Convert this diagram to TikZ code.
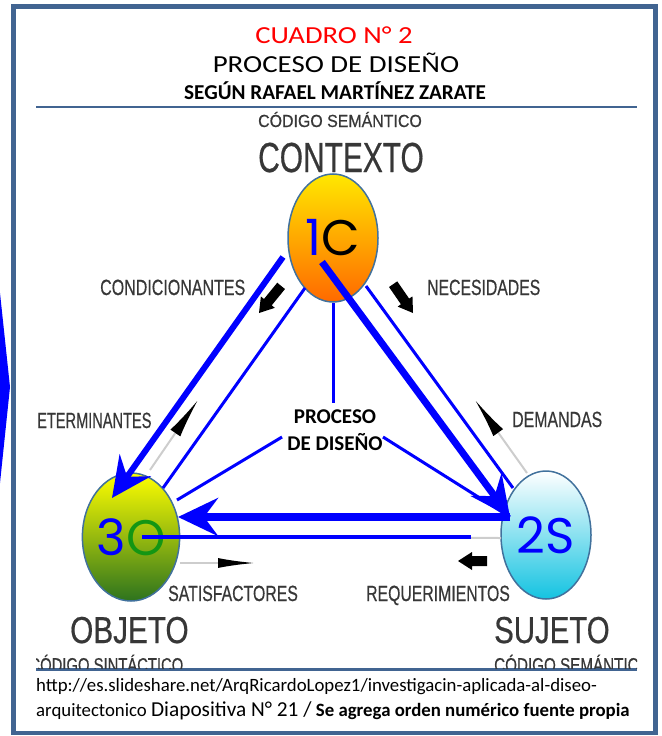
\documentclass[tikz,border=0pt]{standalone}
\usepackage{fontspec}
\usepackage{graphicx}
\setmainfont{Carlito}
\newfontfamily\scanfont[FakeBold=0.6]{Liberation Sans}
\newfontfamily\letrafont{Poppins}
\usetikzlibrary{arrows.meta,shapes.geometric}

\definecolor{marco}{RGB}{65,100,145}
\definecolor{borde}{RGB}{65,113,156}
\definecolor{gristxt}{RGB}{55,55,55}
\definecolor{grisclaro}{RGB}{205,205,205}
\definecolor{azul}{RGB}{0,0,255}
\definecolor{verde}{RGB}{20,150,20}

% texto condensado del esquema escaneado
\newcommand{\scantxt}[3]{\scalebox{#1}[1]{\scanfont\fontsize{#2bp}{#2bp}\selectfont #3}}

\tikzset{
  etapa/.style={ellipse, draw=borde, line width=1.5bp, minimum width=90bp, minimum height=128bp,
    inner sep=0pt, font=\letrafont\fontsize{50bp}{50bp}\selectfont},
  scanlbl/.style={inner sep=0pt, text=gristxt},
  lazo/.style={draw=azul, line width=3bp},
  flecha/.style={draw=azul, line width=#1, -{Stealth[length=40bp, width=38bp, inset=14bp]}},
  rastro/.style={draw=grisclaro, line width=2bp},
  bloque/.style={fill=black}
}

\begin{document}
\begin{tikzpicture}[x=1bp, y=-1bp]
  \useasboundingbox (0,0) rectangle (662,736);

  % marco y reglas
  \fill[azul] (0,293) -- (10,387) -- (0,483) -- cycle;
  \draw[marco, line width=4.5bp] (13.5,6.5) rectangle (655.5,733);
  \draw[marco, line width=2.5bp] (36,107) -- (637,107);
  \draw[marco, line width=2.5bp] (36,669.5) -- (637,669.5);

  % titulos
  \node[anchor=base, inner sep=0pt, text=red] (cuadro) at (334,44)
    {\scalebox{1.17}[1]{\fontsize{24.5bp}{24.5bp}\selectfont CUADRO N° 2}};
  \node[anchor=base, inner sep=0pt] (titulo) at (336,73)
    {\scalebox{1.18}[1]{\fontsize{24.5bp}{24.5bp}\selectfont PROCESO DE DISEÑO}};
  \node[anchor=base, inner sep=0pt, font=\bfseries\fontsize{21.2bp}{21bp}\selectfont] (autor) at (335,99)
    {SEGÚN RAFAEL MARTÍNEZ ZARATE};

  % rotulos del esquema
  \node[scanlbl, anchor=base] (codsem) at (340,127) {\scantxt{0.91}{17.5}{CÓDIGO SEMÁNTICO}};
  \node[scanlbl, anchor=base] (contexto) at (341,172) {\scantxt{0.712}{42}{CONTEXTO}};
  \node[scanlbl, anchor=base west] (condic) at (100,295) {\scantxt{0.728}{22}{CONDICIONANTES}};
  \node[scanlbl, anchor=base west] (necesi) at (427,295) {\scantxt{0.717}{22}{NECESIDADES}};
  \node[scanlbl, anchor=base west] (determ) at (37,428) {\scantxt{0.663}{22}{ETERMINANTES}};
  \node[scanlbl, anchor=base west] (demand) at (512,427) {\scantxt{0.722}{22}{DEMANDAS}};
  \node[scanlbl, anchor=base west] (satisf) at (168,601) {\scantxt{0.72}{22}{SATISFACTORES}};
  \node[scanlbl, anchor=base west] (requer) at (366,601) {\scantxt{0.718}{22}{REQUERIMIENTOS}};
  \node[scanlbl, anchor=base west] (objeto) at (70,643) {\scantxt{0.793}{37.5}{OBJETO}};
  \node[scanlbl, anchor=base west] (sujeto) at (494,643) {\scantxt{0.784}{37.5}{SUJETO}};
  \begin{scope}
    \clip (36,600) rectangle (637,668);
    \node[scanlbl, anchor=base west] (codsin) at (29.3,672) {\scantxt{0.74}{20}{CÓDIGO SINTÁCTICO}};
    \node[scanlbl, anchor=base west] (codsemb) at (494,672) {\scantxt{0.76}{20}{CÓDIGO SEMÁNTICO}};
  \end{scope}

  % flechas negras del esquema
  \fill[bloque, shift={(259,313)}, rotate=230.8]
    (0,0) -- (-14,9) -- (-14,5) -- (-35,5) -- (-35,-5) -- (-14,-5) -- (-14,-9) -- cycle;
  \fill[bloque, shift={(413,313)}, rotate=-55.4]
    (0,0) -- (-14,9) -- (-14,5) -- (-35,5) -- (-35,-5) -- (-14,-5) -- (-14,-9) -- cycle;
  \fill[bloque, shift={(458,561)}, rotate=180]
    (0,0) -- (-14,9) -- (-14,5) -- (-29,5) -- (-29,-5) -- (-14,-5) -- (-14,-9) -- cycle;

  \coordinate (detT) at (150,470);
  \coordinate (detP) at (198,400);
  \coordinate (demT) at (527,473);
  \coordinate (demP) at (475,400);
  \coordinate (satT) at (180,563);
  \coordinate (satP) at (255,563);
  \draw[rastro, -{Latex[length=40bp, width=12bp, color=black]}] (detT) -- (detP);
  \draw[rastro, -{Latex[length=40bp, width=12bp, color=black]}] (demT) -- (demP);
  \draw[rastro, -{Latex[length=37bp, width=10bp, color=black]}] (satT) -- (satP);

  % etapas
  \node[etapa, top color={rgb,255:red,255;green,232;blue,0}, middle color={rgb,255:red,255;green,170;blue,0},
    bottom color={rgb,255:red,255;green,105;blue,0}] (ctx) at (333,238) {\textcolor{azul}{1}C};
  \node[etapa, top color=white, middle color={rgb,255:red,150;green,228;blue,240},
    bottom color={rgb,255:red,20;green,195;blue,225}] (suj) at (546,535) {\textcolor{azul}{2S}};
  \node[etapa, top color={rgb,255:red,255;green,255;blue,0}, middle color={rgb,255:red,200;green,200;blue,45},
    bottom color={rgb,255:red,45;green,115;blue,30}] (obj) at (131,537) {\textcolor{azul}{3}\textcolor{verde}{O}};

  \node[align=center, inner sep=0pt, font=\bfseries\fontsize{21bp}{27bp}\selectfont] (proc) at (335,430)
    {PROCESO\\DE DISEÑO};

  % puntos de los trazos azules
  \coordinate (ctxA) at (283,257);
  \coordinate (ctxB) at (305,288);
  \coordinate (ctxC) at (322,262);
  \coordinate (ctxD) at (366,286);
  \coordinate (procT) at (333,403);
  \coordinate (procL) at (282,437);
  \coordinate (procR) at (383,437);
  \coordinate (objA) at (112,498);
  \coordinate (objB) at (163,488);
  \coordinate (objC) at (177,500);
  \coordinate (objD) at (178,517);
  \coordinate (objE) at (142,537);
  \coordinate (sujA) at (510,517);
  \coordinate (sujB) at (513,488);
  \coordinate (sujC) at (471,537);
  \coordinate (sujD) at (501,538);

  \draw[rastro] (objE) -- (sujD);

  \draw[flecha=6bp] (ctxA) -- (objA);
  \draw[lazo] (ctxB) -- (objB);
  \draw[lazo] (ctx.south) -- (procT);
  \draw[lazo] (procL) -- (objC);
  \draw[lazo] (procR) -- (sujA);
  \draw[flecha=7bp] (ctxC) -- (sujA);
  \draw[lazo] (ctxD) -- (sujB);
  \draw[flecha=8bp] (sujA) -- (objD);
  \draw[draw=azul, line width=3.5bp] (objE) -- (sujC);

  % fuente
  \node[anchor=base west, inner sep=0pt, font=\fontsize{18.8bp}{22bp}\selectfont] (url) at (36,691)
    {http://es.slideshare.net/ArqRicardoLopez1/investigacin-aplicada-al-diseo-};
  \node[anchor=base west, inner sep=0pt, font=\fontsize{18.8bp}{22bp}\selectfont] (fuente) at (36,716)
    {arquitectonico {\fontsize{21.3bp}{24bp}\selectfont Diapositiva N° 21 /} \textbf{Se agrega orden numérico fuente propia}};
\end{tikzpicture}
\end{document}
